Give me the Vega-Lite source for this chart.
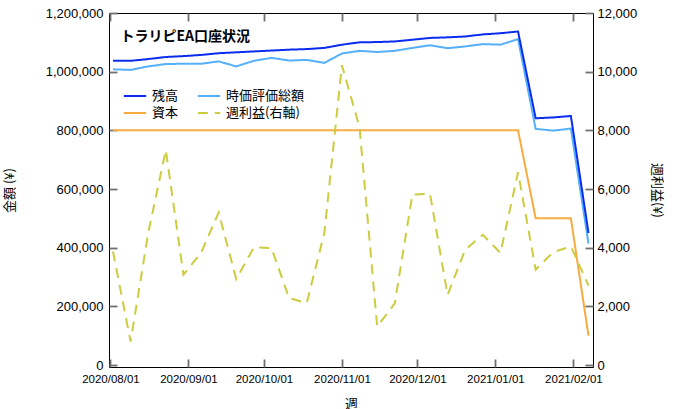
{
  "$schema": "https://vega.github.io/schema/vega-lite/v6.json",
  "width": 484,
  "height": 354,
  "autosize": {"type": "none"},
  "padding": {"left": 109, "top": 13, "right": 83, "bottom": 42},
  "title": {
    "text": "トラリピEA口座状況",
    "anchor": "start",
    "frame": "group",
    "font": "Noto Sans CJK JP",
    "fontSize": 14,
    "fontWeight": "bold",
    "color": "#000",
    "baseline": "middle",
    "offset": 0,
    "dx": 11.5,
    "dy": 44
  },
  "data": {
    "values": [
      {"date": "2020-08-02", "残高": 1037000, "時価評価総額": 1008000, "資本": 800000, "週利益(右軸)": 3870},
      {"date": "2020-08-09", "残高": 1037000, "時価評価総額": 1006000, "資本": 800000, "週利益(右軸)": 800},
      {"date": "2020-08-16", "残高": 1043000, "時価評価総額": 1018000, "資本": 800000, "週利益(右軸)": 4500},
      {"date": "2020-08-23", "残高": 1050000, "時価評価総額": 1026000, "資本": 800000, "週利益(右軸)": 7330},
      {"date": "2020-08-30", "残高": 1053000, "時価評価総額": 1027000, "資本": 800000, "週利益(右軸)": 3080},
      {"date": "2020-09-06", "残高": 1057000, "時価評価総額": 1027000, "資本": 800000, "週利益(右軸)": 3820},
      {"date": "2020-09-13", "残高": 1063000, "時価評価総額": 1035000, "資本": 800000, "週利益(右軸)": 5200},
      {"date": "2020-09-20", "残高": 1066000, "時価評価総額": 1018000, "資本": 800000, "週利益(右軸)": 2930},
      {"date": "2020-09-27", "残高": 1069000, "時価評価総額": 1037000, "資本": 800000, "週利益(右軸)": 4010},
      {"date": "2020-10-04", "残高": 1072000, "時価評価総額": 1047000, "資本": 800000, "週利益(右軸)": 3990},
      {"date": "2020-10-11", "残高": 1075000, "時価評価総額": 1038000, "資本": 800000, "週利益(右軸)": 2280},
      {"date": "2020-10-18", "残高": 1077000, "時価評価総額": 1040000, "資本": 800000, "週利益(右軸)": 2110},
      {"date": "2020-10-25", "残高": 1081000, "時価評価総額": 1030000, "資本": 800000, "週利益(右軸)": 4500},
      {"date": "2020-11-01", "残高": 1092000, "時価評価総額": 1062000, "資本": 800000, "週利益(右軸)": 10220},
      {"date": "2020-11-08", "残高": 1100000, "時価評価総額": 1071000, "資本": 800000, "週利益(右軸)": 8100},
      {"date": "2020-11-15", "残高": 1101000, "時価評価総額": 1067000, "資本": 800000, "週利益(右軸)": 1310},
      {"date": "2020-11-22", "残高": 1103000, "時価評価総額": 1071000, "資本": 800000, "週利益(右軸)": 2100},
      {"date": "2020-11-29", "残高": 1109000, "時価評価総額": 1081000, "資本": 800000, "週利益(右軸)": 5810},
      {"date": "2020-12-06", "残高": 1115000, "時価評価総額": 1090000, "資本": 800000, "週利益(右軸)": 5840},
      {"date": "2020-12-13", "残高": 1117000, "時価評価総額": 1080000, "資本": 800000, "週利益(右軸)": 2390},
      {"date": "2020-12-20", "残高": 1120000, "時価評価総額": 1086000, "資本": 800000, "週利益(右軸)": 3930},
      {"date": "2020-12-27", "残高": 1127000, "時価評価総額": 1094000, "資本": 800000, "週利益(右軸)": 4440},
      {"date": "2021-01-03", "残高": 1131000, "時価評価総額": 1092000, "資本": 800000, "週利益(右軸)": 3820},
      {"date": "2021-01-10", "残高": 1137000, "時価評価総額": 1111000, "資本": 800000, "週利益(右軸)": 6570},
      {"date": "2021-01-17", "残高": 841000, "時価評価総額": 805000, "資本": 500000, "週利益(右軸)": 3250},
      {"date": "2021-01-24", "残高": 844000, "時価評価総額": 799000, "資本": 500000, "週利益(右軸)": 3850},
      {"date": "2021-01-31", "残高": 849000, "時価評価総額": 806000, "資本": 500000, "週利益(右軸)": 4040},
      {"date": "2021-02-07", "残高": 450000, "時価評価総額": 414000, "資本": 100000, "週利益(右軸)": 2710}
    ]
  },
  "layer": [
    {
      "transform": [
        {"fold": ["時価評価総額", "残高", "資本"], "as": ["key", "value"]}
      ],
      "mark": {"type": "line", "strokeWidth": 2},
      "encoding": {
        "x": {
          "field": "date",
          "type": "temporal",
          "scale": {
            "type": "utc",
            "domain": [
              {"year": 2020, "month": 7, "date": 31, "hours": 10, "utc": true},
              {"year": 2021, "month": 2, "date": 8, "hours": 19, "utc": true}
            ]
          },
          "axis": {
            "orient": "bottom",
            "title": "週",
            "labelExpr": "utcFormat(datum.value, '%Y/%m/%d')",
            "values": [
              {"year": 2020, "month": 8, "date": 1, "utc": true},
              {"year": 2020, "month": 9, "date": 1, "utc": true},
              {"year": 2020, "month": 10, "date": 1, "utc": true},
              {"year": 2020, "month": 11, "date": 1, "utc": true},
              {"year": 2020, "month": 12, "date": 1, "utc": true},
              {"year": 2021, "month": 1, "date": 1, "utc": true},
              {"year": 2021, "month": 2, "date": 1, "utc": true}
            ],
            "labelFontSize": 11.5,
            "labelPadding": 6,
            "labelFlush": false,
            "labelOverlap": false,
            "titlePadding": 13
          }
        },
        "y": {
          "field": "value",
          "type": "quantitative",
          "scale": {"domain": [-6800, 1200000], "nice": false, "zero": false},
          "axis": {
            "orient": "left",
            "title": "金額 (¥)",
            "values": [0, 200000, 400000, 600000, 800000, 1000000, 1200000],
            "format": ",d",
            "labelPadding": 6,
            "titlePadding": 29
          }
        },
        "color": {
          "field": "key",
          "type": "nominal",
          "scale": {
            "domain": ["残高", "資本", "時価評価総額", "週利益(右軸)"],
            "range": ["#0a2cf0", "#f8ac40", "#56b0f8", "#cccc40"]
          }
        },
        "strokeDash": {
          "field": "key",
          "type": "nominal",
          "scale": {
            "domain": ["残高", "資本", "時価評価総額", "週利益(右軸)"],
            "range": [[1, 0], [1, 0], [1, 0], [10, 7]]
          }
        }
      }
    },
    {
      "transform": [
        {"fold": ["週利益(右軸)"], "as": ["key", "value"]}
      ],
      "mark": {"type": "line", "strokeWidth": 2},
      "encoding": {
        "x": {
          "field": "date",
          "type": "temporal",
          "axis": {
            "orient": "top",
            "title": null,
            "labels": false,
            "values": [
              {"year": 2020, "month": 8, "date": 1, "utc": true},
              {"year": 2020, "month": 9, "date": 1, "utc": true},
              {"year": 2020, "month": 10, "date": 1, "utc": true},
              {"year": 2020, "month": 11, "date": 1, "utc": true},
              {"year": 2020, "month": 12, "date": 1, "utc": true},
              {"year": 2021, "month": 1, "date": 1, "utc": true},
              {"year": 2021, "month": 2, "date": 1, "utc": true}
            ]
          }
        },
        "y": {
          "field": "value",
          "type": "quantitative",
          "scale": {"domain": [-68, 12000], "nice": false, "zero": false},
          "axis": {
            "orient": "right",
            "title": "週利益(¥)",
            "values": [0, 2000, 4000, 6000, 8000, 10000, 12000],
            "format": ",d",
            "labelPadding": 4,
            "titlePadding": 13
          }
        },
        "color": {"field": "key", "type": "nominal"},
        "strokeDash": {"field": "key", "type": "nominal"}
      }
    }
  ],
  "resolve": {"scale": {"y": "independent"}, "axis": {"x": "independent"}},
  "config": {
    "view": {"stroke": "#000", "strokeWidth": 1},
    "axis": {
      "domain": false,
      "grid": false,
      "ticks": true,
      "tickSize": 8,
      "offset": -8,
      "tickColor": "#707070",
      "tickWidth": 1.8,
      "zindex": 2,
      "labelFont": "Liberation Sans",
      "labelFontSize": 13,
      "labelColor": "#000",
      "titleFont": "Noto Sans CJK JP",
      "titleFontSize": 13,
      "titleFontWeight": "normal",
      "titleColor": "#000"
    },
    "legend": {
      "orient": "none",
      "legendX": 17,
      "legendY": 74,
      "columns": 2,
      "title": null,
      "symbolType": "M-1.4,0H1.4",
      "symbolSize": 256,
      "symbolStrokeWidth": 2,
      "labelFont": "Noto Sans CJK JP",
      "labelFontSize": 13,
      "labelColor": "#000",
      "labelOffset": 8,
      "columnPadding": 14,
      "rowPadding": 1
    }
  }
}
